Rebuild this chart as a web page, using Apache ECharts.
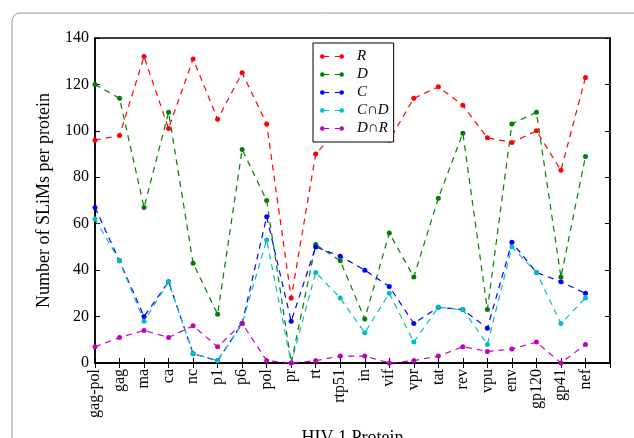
<!DOCTYPE html>
<html>
<head>
<meta charset="utf-8">
<script src="https://cdn.jsdelivr.net/npm/echarts@6/dist/echarts.min.js"></script>
<style>
  html, body { margin: 0; padding: 0; background: #fff; }
  #chart { width: 634px; height: 438px; }
</style>
</head>
<body>
<div id="chart"></div>
<script>
const proteins = ['gag-pol', 'gag', 'ma', 'ca', 'nc', 'p1', 'p6', 'pol', 'pr', 'rt', 'rtp51',
  'in', 'vif', 'vpr', 'tat', 'rev', 'vpu', 'env', 'gp120', 'gp41', 'nef'];
const seriesR = [96, 98, 132, 101, 131, 105, 125, 103, 28, 90, 102, 98, 96, 114, 119, 111, 97, 95, 100, 83, 123];
const seriesD = [120, 114, 67, 108, 43, 21, 92, 70, 0, 51, 44, 19, 56, 37, 71, 99, 23, 103, 108, 37, 89];
const seriesC = [67, 44, 20, 35, 4, 1, 17, 63, 18, 50, 46, 40, 33, 17, 24, 23, 15, 52, 39, 35, 30];
const seriesCD = [62, 44, 18, 35, 4, 1, 17, 53, 0, 39, 28, 13, 30, 9, 24, 23, 8, 50, 39, 17, 28];
const seriesDR = [7, 11, 14, 11, 16, 7, 17, 1, 0, 1, 3, 3, 0, 1, 3, 7, 5, 6, 9, 0, 8];
const yTicks = [0, 20, 40, 60, 80, 100, 120, 140];

const serif = 'Liberation Serif';
// one empty slot at the end so the axis runs a step past nef
const cats = proteins.concat(['']);

// legend key like matplotlib: dot, dash, gap, dash, dot
const keyIcon = 'path://M0,3A2.5,2.5 0 1,0 5,3A2.5,2.5 0 1,0 0,3Z' +
  'M5,2.4L10,2.4L10,3.6L5,3.6Z' +
  'M16,2.4L21,2.4L21,3.6L16,3.6Z' +
  'M21,3A2.5,2.5 0 1,0 26,3A2.5,2.5 0 1,0 21,3Z';

function line(name, data, color) {
  return {
    name: name,
    type: 'line',
    data: data,
    symbol: 'circle',
    symbolSize: 5,
    color: color,
    lineStyle: { type: [6, 5], width: 1.2 },
    itemStyle: { color: color },
    z: 3
  };
}

const chart = echarts.init(document.getElementById('chart'));
chart.setOption({
  animation: false,
  backgroundColor: '#fff',
  graphic: [{
    type: 'rect',
    shape: { x: 12, y: 13, width: 640, height: 460, r: 8 },
    style: { fill: 'none', stroke: '#999', lineWidth: 1 },
    silent: true,
    z: 0
  }],
  grid: {
    left: 95, right: 24, top: 38, bottom: 75,
    outerBoundsMode: 'none',
    show: true, borderColor: '#000', borderWidth: 1.5,
    backgroundColor: 'transparent'
  },
  legend: {
    orient: 'vertical',
    left: 313, top: 43,
    padding: [6, 5, 6, 7],
    itemGap: 3,
    itemWidth: 24, itemHeight: 6,
    icon: keyIcon,
    backgroundColor: '#fff',
    borderColor: '#000',
    borderWidth: 1,
    textStyle: { fontFamily: serif, fontStyle: 'italic', fontSize: 15, lineHeight: 15, color: '#000', padding: [0, 0, 0, 8] },
    data: ['R', 'D', 'C', 'C∩D', 'D∩R']
  },
  xAxis: [{
    type: 'category',
    data: cats,
    boundaryGap: false,
    name: 'HIV-1 Protein',
    nameLocation: 'middle',
    nameGap: 66,
    nameTextStyle: { fontFamily: serif, fontSize: 18, color: '#000' },
    axisLine: { lineStyle: { color: '#000', width: 1.5 } },
    axisTick: { inside: true, length: 5, interval: 0, lineStyle: { color: '#000' } },
    axisLabel: { interval: 0, rotate: 90, fontFamily: serif, fontSize: 16, color: '#000', margin: 6 },
    splitLine: { show: false }
  }, {
    type: 'category',
    data: cats,
    boundaryGap: false,
    position: 'top',
    axisLine: { lineStyle: { color: '#000', width: 1.5 } },
    axisTick: { inside: true, length: 5, interval: 0, lineStyle: { color: '#000' } },
    axisLabel: { show: false },
    splitLine: { show: false }
  }],
  yAxis: [{
    type: 'value',
    min: 0, max: 140, interval: 20,
    name: 'Number of SLiMs per protein',
    nameLocation: 'middle',
    nameGap: 42,
    nameTextStyle: { fontFamily: serif, fontSize: 18, color: '#000' },
    axisLine: { show: true, lineStyle: { color: '#000', width: 1.5 } },
    axisTick: { show: true, inside: true, length: 5, lineStyle: { color: '#000' } },
    axisLabel: {
      fontFamily: serif, fontSize: 16, color: '#000', margin: 6,
      formatter: v => yTicks.includes(v) ? String(v) : ''
    },
    splitLine: { show: false }
  }, {
    type: 'value',
    min: 0, max: 140, interval: 20,
    position: 'right',
    axisLine: { show: true, lineStyle: { color: '#000', width: 1.5 } },
    axisTick: { show: true, inside: true, length: 5, lineStyle: { color: '#000' } },
    axisLabel: { show: false },
    splitLine: { show: false }
  }],
  series: [
    line('R', seriesR, '#ff0000'),
    line('D', seriesD, '#008000'),
    line('C', seriesC, '#0000ff'),
    line('C∩D', seriesCD, '#00bfbf'),
    line('D∩R', seriesDR, '#bf00bf')
  ]
});
</script>
</body>
</html>
